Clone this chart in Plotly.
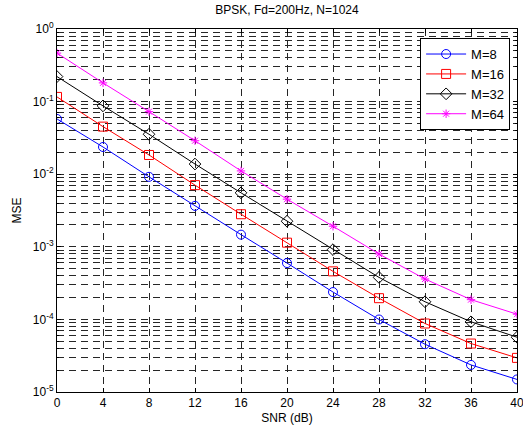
import plotly.graph_objects as go

snr = [0, 4, 8, 12, 16, 20, 24, 28, 32, 36, 40]
mse_m8 = [0.0577, 0.0237, 0.0092, 0.00366, 0.00147, 0.000597, 0.000238, 9.97e-5, 4.55e-5, 2.36e-5, 1.49e-5]
mse_m16 = [0.116, 0.0452, 0.0184, 0.00707, 0.00281, 0.00114, 0.000459, 0.000196, 8.78e-5, 4.65e-5, 2.95e-5]
mse_m32 = [0.221, 0.0873, 0.0355, 0.0138, 0.00554, 0.00225, 0.000914, 0.000379, 0.000175, 9.27e-5, 5.68e-5]
mse_m64 = [0.466, 0.181, 0.0728, 0.0289, 0.0111, 0.00453, 0.00192, 0.000796, 0.000360, 0.000187, 0.000118]
series_names = ["M=8", "M=16", "M=32", "M=64"]
x_ticks = [0, 4, 8, 12, 16, 20, 24, 28, 32, 36, 40]
y_tickvals = [1e-5, 1e-4, 1e-3, 1e-2, 1e-1, 1]
y_ticktext = ["10<sup>-5</sup>", "10<sup>-4</sup>", "10<sup>-3</sup>", "10<sup>-2</sup>", "10<sup>-1</sup>", "10<sup>0</sup>"]

styles = [
    ("#0000ff", "circle-open", 9),
    ("#ff0000", "square-open", 9),
    ("#000000", "diamond-open", 9),
    ("#ff00ff", "asterisk-open", 7),
]

fig = go.Figure()
for name, ys, (color, sym, size) in zip(series_names, [mse_m8, mse_m16, mse_m32, mse_m64], styles):
    fig.add_trace(go.Scatter(
        x=snr, y=ys, name=name, mode="lines+markers",
        line=dict(color=color, width=1),
        marker=dict(symbol=sym, size=size, color=color, line=dict(color=color, width=1)),
    ))

font = dict(family="Liberation Sans, Arial, sans-serif", size=12, color="#000000")
grid = dict(gridcolor="#262626", gridwidth=1, griddash="7px,5px")

fig.update_layout(
    width=523, height=428,
    margin=dict(l=57, r=6, t=29, b=36, autoexpand=False),
    paper_bgcolor="white", plot_bgcolor="white",
    font=font,
    title=dict(text="BPSK, Fd=200Hz, N=1024", x=0.5, xref="paper", y=0.988, yanchor="top",
               font=dict(family="Liberation Sans, Arial, sans-serif", size=12, color="#000")),
    showlegend=True,
    legend=dict(x=0.985, y=0.975, xanchor="right", yanchor="top",
                bordercolor="#000", borderwidth=1, bgcolor="white",
                font=dict(size=13), tracegroupgap=0, itemwidth=40),
    xaxis=dict(range=[0, 40], tickvals=x_ticks, showline=True, linecolor="#000", linewidth=1,
               mirror="ticks", ticks="inside", ticklen=4, tickcolor="#000",
               showgrid=True, zeroline=False, ticklabeloverflow="allow", automargin=False,
               title=dict(text="SNR (dB)", standoff=4, font=dict(size=12)),
               tickfont=dict(size=12), **grid),
    yaxis=dict(type="log", range=[-5, 0], tickvals=y_tickvals, ticktext=y_ticktext,
               showline=True, linecolor="#000", linewidth=1, mirror="ticks",
               ticks="inside", ticklen=4, tickcolor="#000", automargin=False,
               showgrid=True, zeroline=False,
               title=dict(text="MSE", standoff=8, font=dict(size=12)),
               tickfont=dict(size=12),
               minor=dict(dtick="D1", showgrid=True, gridcolor="#262626", griddash="7px,5px",
                          ticks="inside", ticklen=2, tickcolor="#000"),
               **grid),
)

fig.write_html("out.html", config={"displayModeBar": False},
               post_script="document.body.style.margin='0';")
